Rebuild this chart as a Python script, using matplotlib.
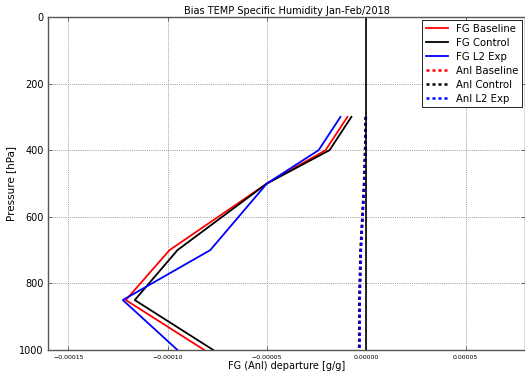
import numpy as np
import matplotlib
matplotlib.use('Agg')
import matplotlib.pyplot as plt

# pressure levels [hPa]
levels = [300, 400, 500, 700, 850, 1000]

# first guess departures [g/g]
fg_baseline = [-9.5e-6, -2.05e-5, -5.0e-5, -9.9e-5, -1.21e-4, -8.15e-5]
fg_control = [-7.5e-6, -1.85e-5, -5.0e-5, -9.5e-5, -1.165e-4, -7.7e-5]
fg_l2exp = [-1.3e-5, -2.4e-5, -5.0e-5, -7.85e-5, -1.225e-4, -9.5e-5]

# analysis departures [g/g]
anl_baseline = [-0.3e-6, -0.6e-6, -1.1e-6, -2.8e-6, -3.4e-6, -3.5e-6]
anl_control = [-0.3e-6, -0.6e-6, -1.1e-6, -2.9e-6, -3.5e-6, -3.6e-6]
anl_l2exp = [-0.2e-6, -0.5e-6, -1.0e-6, -2.7e-6, -3.3e-6, -3.4e-6]


def main():
    fig = plt.figure(figsize=(5.25, 3.72), dpi=100)
    ax = fig.add_axes([48.3 / 525, 22 / 372, 477 / 525, 333 / 372])

    ax.plot(fg_baseline, levels, color='red', lw=1.3, label='FG Baseline')
    ax.plot(fg_control, levels, color='black', lw=1.3, label='FG Control')
    ax.plot(fg_l2exp, levels, color='blue', lw=1.3, label='FG L2 Exp')
    ax.plot(anl_baseline, levels, color='red', lw=1.8, ls=(0, (1.2, 1.2)), label='Anl Baseline')
    ax.plot(anl_control, levels, color='black', lw=1.8, ls=(0, (1.2, 1.2)), label='Anl Control')
    ax.plot(anl_l2exp, levels, color='blue', lw=1.8, ls=(0, (1.2, 1.2)), label='Anl L2 Exp')
    ax.axvline(0, color='black', lw=1.2)

    ax.set_xlim(-0.00016, 0.00008)
    ax.set_ylim(1000, 0)
    ax.set_xticks([-0.00015, -0.0001, -0.00005, 0.0, 0.00005])
    ax.set_xticklabels(['\u22120.00015', '\u22120.00010', '\u22120.00005', '0.00000', '0.00005'],
                       fontsize=4.5)
    ax.set_yticks([0, 200, 400, 600, 800, 1000])
    ax.tick_params(axis='y', labelsize=7)
    ax.tick_params(direction='in', top=True, right=True, length=3, width=0.6, color='#555555')
    ax.grid(True, color='#999999', ls=(0, (1, 1.2)), lw=0.7)
    for s in ax.spines.values():
        s.set_color('#555555')
        s.set_linewidth(1.0)

    ax.set_title('Bias TEMP Specific Humidity Jan-Feb/2018', fontsize=7, pad=2)
    ax.set_xlabel('FG (Anl) departure [g/g]', fontsize=7, labelpad=1)
    ax.set_ylabel('Pressure [hPa]', fontsize=7.5, labelpad=2)

    leg = ax.legend(loc='upper right', fontsize=7.3, fancybox=False, framealpha=1,
                    handlelength=2.2, borderaxespad=0.3, labelspacing=0.4,
                    borderpad=0.35)
    leg.get_frame().set_edgecolor('black')
    leg.get_frame().set_linewidth(0.6)

    fig.savefig('out.png', dpi=100)
    plt.close(fig)


if __name__ == "__main__":
    main()
